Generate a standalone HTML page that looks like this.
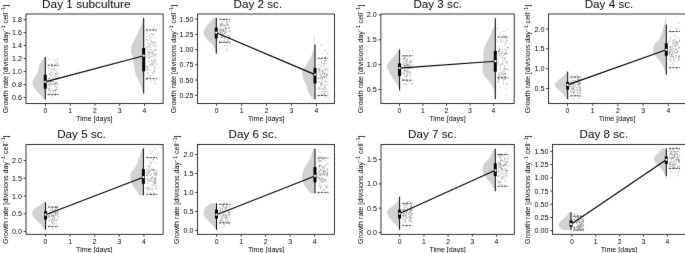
<!DOCTYPE html><html><head><meta charset="utf-8"><title>Growth rate per subculture</title><style>html,body{margin:0;padding:0;background:#fff;}body{width:685px;height:253px;overflow:hidden;font-family:"Liberation Sans", sans-serif;}svg{display:block;will-change:transform;}</style></head><body><svg width="685" height="253" viewBox="0 0 685 253" font-family='"Liberation Sans", sans-serif' fill="#000"><defs><filter id="b" filterUnits="userSpaceOnUse" x="0" y="0" width="685" height="253" color-interpolation-filters="sRGB"><feConvolveMatrix order="3" kernelMatrix="0.00524 0.06192 0.00524 0.06192 0.73137 0.06192 0.00524 0.06192 0.00524" divisor="1" edgeMode="duplicate" preserveAlpha="false"/></filter></defs><rect width="685" height="253" fill="#fff"/><g filter="url(#b)"><g><path d="M45.3 57L44.61 57L44.35 57.51L44.02 58.01L43.65 58.52L43.26 59.03L42.88 59.54L42.5 60.04L42.14 60.55L41.78 61.06L41.43 61.56L41.09 62.07L40.75 62.58L40.43 63.09L40.12 63.59L39.84 64.1L39.59 64.61L39.39 65.11L39.22 65.62L39.09 66.13L38.98 66.64L38.88 67.14L38.8 67.65L38.73 68.16L38.66 68.66L38.59 69.17L38.52 69.68L38.43 70.19L38.34 70.69L38.22 71.2L38.07 71.71L37.88 72.21L37.64 72.72L37.34 73.23L37 73.74L36.61 74.24L36.21 74.75L35.8 75.26L35.41 75.76L35.05 76.27L34.71 76.78L34.4 77.29L34.11 77.79L33.84 78.3L33.57 78.81L33.31 79.31L33.07 79.82L32.85 80.33L32.66 80.84L32.5 81.34L32.39 81.85L32.32 82.36L32.3 82.86L32.33 83.37L32.41 83.88L32.54 84.39L32.7 84.89L32.9 85.4L33.13 85.91L33.38 86.41L33.65 86.92L33.93 87.43L34.23 87.94L34.54 88.44L34.88 88.95L35.25 89.46L35.65 89.96L36.09 90.47L36.56 90.98L37.04 91.49L37.53 91.99L38.01 92.5L38.48 93.01L38.94 93.51L39.38 94.02L39.81 94.53L40.23 95.04L40.65 95.54L41.08 96.05L41.53 96.56L42 97.06L42.49 97.57L43 98.08L43.5 98.59L43.95 99.09L44.3 99.6L45.3 99.6Z" fill="#d2d2d2"/><path d="M143.7 17.8L143.31 17.8L143.22 18.31L143.11 18.81L142.98 19.32L142.84 19.82L142.69 20.33L142.54 20.83L142.39 21.34L142.23 21.84L142.06 22.35L141.9 22.85L141.73 23.36L141.56 23.86L141.38 24.37L141.2 24.87L141.02 25.38L140.83 25.89L140.64 26.39L140.44 26.9L140.23 27.4L140.03 27.91L139.81 28.41L139.6 28.92L139.37 29.42L139.15 29.93L138.92 30.43L138.69 30.94L138.46 31.44L138.23 31.95L138 32.45L137.76 32.96L137.53 33.47L137.3 33.97L137.06 34.48L136.83 34.98L136.59 35.49L136.35 35.99L136.11 36.5L135.87 37L135.63 37.51L135.38 38.01L135.13 38.52L134.88 39.02L134.64 39.53L134.39 40.03L134.15 40.54L133.91 41.05L133.68 41.55L133.44 42.06L133.19 42.56L132.95 43.07L132.7 43.57L132.45 44.08L132.21 44.58L131.99 45.09L131.8 45.59L131.63 46.1L131.49 46.6L131.39 47.11L131.3 47.61L131.24 48.12L131.18 48.63L131.13 49.13L131.08 49.64L131.05 50.14L131.02 50.65L131 51.15L131.01 51.66L131.04 52.16L131.1 52.67L131.21 53.17L131.36 53.68L131.54 54.18L131.75 54.69L131.97 55.19L132.2 55.7L132.42 56.21L132.63 56.71L132.81 57.22L132.96 57.72L133.07 58.23L133.16 58.73L133.21 59.24L133.26 59.74L133.29 60.25L133.31 60.75L133.34 61.26L133.36 61.76L133.39 62.27L133.43 62.77L133.47 63.28L133.53 63.79L133.59 64.29L133.68 64.8L133.77 65.3L133.88 65.81L133.99 66.31L134.11 66.82L134.23 67.32L134.35 67.83L134.47 68.33L134.57 68.84L134.68 69.34L134.77 69.85L134.85 70.35L134.92 70.86L134.98 71.37L135.05 71.87L135.12 72.38L135.2 72.88L135.29 73.39L135.41 73.89L135.56 74.4L135.74 74.9L135.97 75.41L136.22 75.91L136.5 76.42L136.8 76.92L137.1 77.43L137.39 77.93L137.67 78.44L137.93 78.95L138.17 79.45L138.41 79.96L138.63 80.46L138.85 80.97L139.07 81.47L139.28 81.98L139.48 82.48L139.69 82.99L139.89 83.49L140.09 84L140.28 84.5L140.47 85.01L140.66 85.51L140.84 86.02L141.03 86.53L141.21 87.03L141.38 87.54L141.56 88.04L141.73 88.55L141.9 89.05L142.07 89.56L142.23 90.06L142.39 90.57L142.55 91.07L142.7 91.58L142.85 92.08L142.99 92.59L143.11 93.09L143.2 93.6L143.7 93.6Z" fill="#d2d2d2"/><path d="M54.81 84.13h0M54.5 90.56h0M56.53 87.35h0M56.32 73.62h0M51.27 75.66h0M55.45 90.36h0M56.99 58.9h0M57.27 89.11h0M49.51 88.05h0M48.08 80.52h0M54.7 75.98h0M50.08 75.46h0M53.78 73.73h0M57.81 79.38h0M51.82 81.47h0M50.48 81.28h0M52.64 98.26h0M54.77 86.97h0M48.87 84.19h0M51.83 96.37h0M49.22 73.57h0M54.82 70.59h0M56.6 82.83h0M51.79 64.37h0M51.74 63.82h0M53.52 81.48h0M50.08 80.3h0M50.42 91.81h0M51.3 83.48h0M52.65 82.04h0M48.66 80.84h0M55.78 74.44h0M53.94 60.13h0M50.98 71.82h0M48.62 84.72h0M55.89 73.15h0M49.19 78.03h0M49.21 59.42h0M49.19 88.89h0M48.66 69.88h0M57.41 75h0M50.65 90.18h0M51.05 81.4h0M56.63 89.2h0M54.37 84.04h0M49.78 85.85h0M52.41 66.35h0M57.17 82.9h0M51.78 81.02h0M55.34 89.63h0M48.83 78.06h0M55.51 84h0M56.03 64.07h0M56.55 78.46h0M54.95 76.54h0M51.73 69.12h0M48.48 88.85h0M53.3 78.35h0M55.83 95.71h0M49.82 82.74h0M50.62 83.67h0M53.48 83.88h0M55.73 84.93h0M57.3 69.48h0M49.13 79.23h0M49.75 74.84h0M56.28 78.68h0M54.63 67.2h0M55.44 94.74h0M58.37 72.95h0M57.76 84.65h0M56.74 76.51h0M56.04 90.1h0M51.99 84.61h0M54.6 69.02h0M49.76 89.91h0M55.85 93.61h0M55.83 91.53h0M55.45 82.41h0M52.51 69.06h0M51.81 72.61h0M52.25 92.87h0M48.15 82.25h0M56.75 71.83h0M53.55 90.98h0M51.91 84.65h0M53.61 83.15h0M55.45 78.05h0M51.84 79.9h0M56.6 73.54h0M57.55 63.72h0M51.91 90.57h0M49.26 80.9h0M55.86 83.15h0M58.33 77.57h0M49.37 86.2h0M55.35 61.3h0M56.55 78.58h0M57.56 62.13h0M49.11 68.52h0M48.77 95.13h0M58.27 83.77h0M49.04 78.5h0M49.67 81.83h0M53.89 90.23h0M52.53 77.31h0M55.75 83.15h0M49.82 84.74h0M57.49 76.98h0M50.1 81.52h0M55.95 86.64h0M48.52 90.73h0" stroke="#787878" stroke-opacity="0.95" stroke-width="0.84" stroke-linecap="round" fill="none"/><path d="M153.82 53.1h0M153.49 29.03h0M150.55 47.54h0M155.2 46.61h0M154.16 63.43h0M149.64 52.41h0M146.84 33.47h0M147.43 88.03h0M147.99 73.62h0M149.28 75.78h0M150.83 43.99h0M156.02 50.4h0M149.01 43.32h0M155.7 38.01h0M153.35 30.26h0M155.22 53.88h0M150.36 38.47h0M146.04 40.81h0M154.5 71.73h0M148.65 52.61h0M147.54 42.61h0M154.63 61.7h0M153.41 45.47h0M148.29 55.19h0M148.89 46.1h0M156.14 54.79h0M148.9 60.81h0M153.59 55.07h0M147.4 49.48h0M154.8 67.62h0M147.27 72.5h0M151.57 41.83h0M146.38 39.49h0M151.94 37.12h0M155.14 83.21h0M146.91 78.26h0M148.96 44.57h0M154.26 80.71h0M152.57 43.11h0M149.38 53.84h0M152.79 54.55h0M150.91 75.5h0M155.31 30.87h0M149.16 46.52h0M154.18 57.99h0M152.87 34.57h0M154 44.54h0M150.09 52.61h0M153.83 73.21h0M153.54 65.52h0M150.18 70.18h0M146.29 66.46h0M156.4 63.69h0M153.71 71.61h0M148.21 61.87h0M153.89 65.11h0M149.01 46.73h0M151.07 41.49h0M155.29 67.17h0M150.84 40.68h0M149.11 76.01h0M149.3 58.29h0M146.83 47.5h0M148.37 77.56h0M148.93 40.14h0M147.87 54.18h0M146.68 36.34h0M151.03 81.36h0M148.32 57.45h0M153.98 68.77h0M155.96 45.62h0M148.95 68.28h0M152.18 63.37h0M151.47 60.31h0M146.81 79.56h0M147.35 51.65h0M155.56 50.3h0M151.12 62.99h0M154.69 70.08h0M146.72 47.71h0M152.42 61.7h0M155.35 41.87h0M155.36 56.3h0M146.06 66.99h0M151.63 33.69h0M149.99 64.53h0M154.21 26.43h0M146.79 79.93h0M148.86 52.81h0M154.78 50.48h0M151.07 64.41h0M150.89 54.45h0M156.46 65.01h0M149.45 35.56h0M146.45 56.68h0M150.24 56.32h0M147.66 77.77h0M146.88 30.06h0M152.13 52.59h0M156.3 60.1h0M152.26 56.36h0M152.99 34.78h0M149.5 57.83h0M152.17 43.37h0M154.12 42.58h0M152.36 73.72h0M154.67 42.48h0M151.95 51.65h0M148.14 66.17h0M152.29 64.29h0M151.3 56.84h0M147.79 69.18h0M152.69 52.06h0M154.82 59.93h0M147.46 69.7h0M151.89 61h0M153.92 60.68h0M150.35 49.9h0M148.92 55.9h0M150.02 49.96h0M151.85 66.22h0M153.42 49.52h0M152.04 53h0M147.16 67.05h0M154.83 55.07h0M155.98 48.07h0M147.09 70.13h0" stroke="#787878" stroke-opacity="0.95" stroke-width="0.84" stroke-linecap="round" fill="none"/><path d="M45.3 81.9L143.7 55.7" stroke="#000" stroke-width="1.15" fill="none"/><path d="M45.3 57V99.6" stroke="#000" stroke-width="1"/><path d="M45.3 74.8V88.7" stroke="#000" stroke-width="3"/><circle cx="45.3" cy="81.9" r="1.15" fill="#fff"/><path d="M47.6 65.3H58.6" stroke="#000" stroke-width="0.75" stroke-dasharray="2.3 1" fill="none"/><path d="M47.6 94.4H58.6" stroke="#000" stroke-width="0.75" stroke-dasharray="2.3 1" fill="none"/><path d="M143.7 17.8V93.6" stroke="#000" stroke-width="1"/><path d="M143.7 48V71.4" stroke="#000" stroke-width="3"/><circle cx="143.7" cy="55.7" r="1.15" fill="#fff"/><path d="M145.8 29.9H157" stroke="#000" stroke-width="0.75" stroke-dasharray="2.3 1" fill="none"/><path d="M145.8 78.7H157" stroke="#000" stroke-width="0.75" stroke-dasharray="2.3 1" fill="none"/><rect x="26" y="14" width="137.1" height="89.45" fill="none" stroke="#000" stroke-width="0.8"/><path d="M26 19.65h-2.5M26 32.62h-2.5M26 45.6h-2.5M26 58.57h-2.5M26 71.55h-2.5M26 84.53h-2.5M26 97.5h-2.5M45.5 103.45v2.5M70.25 103.45v2.5M95 103.45v2.5M119.75 103.45v2.5M144.5 103.45v2.5" stroke="#000" stroke-width="0.7" fill="none"/><g font-size="6.85"><text x="21.9" y="22.15" text-anchor="end" textLength="10" lengthAdjust="spacingAndGlyphs">1.8</text><text x="21.9" y="35.12" text-anchor="end" textLength="10" lengthAdjust="spacingAndGlyphs">1.6</text><text x="21.9" y="48.1" text-anchor="end" textLength="10" lengthAdjust="spacingAndGlyphs">1.4</text><text x="21.9" y="61.07" text-anchor="end" textLength="10" lengthAdjust="spacingAndGlyphs">1.2</text><text x="21.9" y="74.05" text-anchor="end" textLength="10" lengthAdjust="spacingAndGlyphs">1.0</text><text x="21.9" y="87.03" text-anchor="end" textLength="10" lengthAdjust="spacingAndGlyphs">0.8</text><text x="21.9" y="100" text-anchor="end" textLength="10" lengthAdjust="spacingAndGlyphs">0.6</text><text x="45.5" y="112.9" text-anchor="middle">0</text><text x="70.25" y="112.9" text-anchor="middle">1</text><text x="95" y="112.9" text-anchor="middle">2</text><text x="119.75" y="112.9" text-anchor="middle">3</text><text x="144.5" y="112.9" text-anchor="middle">4</text></g><text x="94.3" y="121.45" font-size="6.6" text-anchor="middle" textLength="36.5" lengthAdjust="spacingAndGlyphs">Time [days]</text><text transform="translate(7.75 59.02) rotate(-90)" font-size="6.6" text-anchor="middle" textLength="108.5" lengthAdjust="spacingAndGlyphs">Growth rate [divisions day<tspan font-size="4.8" dy="-2.4">−1</tspan><tspan dy="2.4"> cell</tspan><tspan font-size="4.8" dy="-2.4">−1</tspan><tspan dy="2.4">]</tspan></text><text x="86.3" y="7.6" font-size="10.4" text-anchor="middle" textLength="88.4" lengthAdjust="spacingAndGlyphs">Day 1 subculture</text></g><g><path d="M216.3 17.9L213.52 17.9L213.21 18.41L212.8 18.92L212.33 19.43L211.84 19.95L211.36 20.46L210.88 20.97L210.42 21.48L209.96 21.99L209.51 22.5L209.07 23.01L208.63 23.53L208.2 24.04L207.78 24.55L207.38 25.06L206.99 25.57L206.63 26.08L206.29 26.59L205.96 27.11L205.65 27.62L205.35 28.13L205.05 28.64L204.75 29.15L204.48 29.66L204.23 30.17L204.01 30.69L203.83 31.2L203.7 31.71L203.62 32.22L203.6 32.73L203.65 33.24L203.76 33.75L203.93 34.27L204.14 34.78L204.39 35.29L204.67 35.8L204.96 36.31L205.25 36.82L205.56 37.33L205.87 37.85L206.21 38.36L206.58 38.87L206.98 39.38L207.42 39.89L207.92 40.4L208.47 40.91L209.07 41.43L209.69 41.94L210.31 42.45L210.91 42.96L211.45 43.47L211.94 43.98L212.38 44.49L212.79 45.01L213.16 45.52L213.49 46.03L213.8 46.54L214.08 47.05L214.32 47.56L214.54 48.07L214.74 48.59L214.92 49.1L215.08 49.61L215.24 50.12L215.38 50.63L215.51 51.14L215.64 51.65L215.76 52.17L215.87 52.68L215.96 53.19L216.03 53.7L216.3 53.7Z" fill="#d2d2d2"/><path d="M315 35.3L314.5 35.3L314.49 35.8L314.49 36.31L314.48 36.81L314.48 37.32L314.47 37.82L314.46 38.32L314.44 38.83L314.43 39.33L314.41 39.84L314.39 40.34L314.37 40.84L314.35 41.35L314.33 41.85L314.31 42.36L314.28 42.86L314.26 43.36L314.23 43.87L314.2 44.37L314.16 44.87L314.12 45.38L314.07 45.88L314.01 46.39L313.94 46.89L313.87 47.39L313.79 47.9L313.71 48.4L313.61 48.91L313.52 49.41L313.41 49.91L313.3 50.42L313.17 50.92L313.04 51.43L312.89 51.93L312.73 52.43L312.56 52.94L312.39 53.44L312.2 53.95L312.01 54.45L311.81 54.95L311.61 55.46L311.4 55.96L311.19 56.47L310.97 56.97L310.74 57.47L310.5 57.98L310.24 58.48L309.98 58.99L309.7 59.49L309.41 59.99L309.11 60.5L308.8 61L308.49 61.5L308.18 62.01L307.86 62.51L307.55 63.02L307.24 63.52L306.92 64.02L306.61 64.53L306.29 65.03L305.96 65.54L305.61 66.04L305.25 66.54L304.87 67.05L304.49 67.55L304.12 68.06L303.75 68.56L303.41 69.06L303.09 69.57L302.81 70.07L302.56 70.58L302.37 71.08L302.23 71.58L302.14 72.09L302.1 72.59L302.1 73.1L302.13 73.6L302.19 74.1L302.26 74.61L302.35 75.11L302.44 75.61L302.55 76.12L302.67 76.62L302.79 77.13L302.92 77.63L303.07 78.13L303.25 78.64L303.44 79.14L303.66 79.65L303.9 80.15L304.16 80.65L304.42 81.16L304.69 81.66L304.95 82.17L305.2 82.67L305.44 83.17L305.65 83.68L305.85 84.18L306.03 84.69L306.2 85.19L306.35 85.69L306.5 86.2L306.64 86.7L306.77 87.21L306.91 87.71L307.05 88.21L307.2 88.72L307.35 89.22L307.51 89.73L307.69 90.23L307.88 90.73L308.08 91.24L308.29 91.74L308.52 92.24L308.76 92.75L309.01 93.25L309.27 93.76L309.55 94.26L309.85 94.76L310.16 95.27L310.5 95.77L310.86 96.28L311.24 96.78L311.65 97.28L312.08 97.79L312.49 98.29L312.87 98.8L313.16 99.3L315 99.3Z" fill="#d2d2d2"/><path d="M225.51 27.5h0M221.63 25.79h0M228.07 39.04h0M219.55 41.32h0M226.8 21.07h0M221.46 29.64h0M224.39 25.95h0M229.74 31.84h0M225.11 42.2h0M220 23.86h0M223.95 25.27h0M226.4 31.93h0M220 32.38h0M222.08 37.34h0M219.59 30.73h0M225.12 24.71h0M223.44 29.75h0M224.74 45.68h0M222.54 36.58h0M226.36 23.97h0M221.23 37.31h0M229.01 28.21h0M229.58 37.53h0M224.63 19.41h0M224.33 39.92h0M228.51 24.65h0M222.47 31.39h0M227.91 35.66h0M222.45 32.8h0M227.03 25.58h0M222.94 24.45h0M225.79 28.71h0M229.21 21.5h0M219.98 26.31h0M227.96 24.23h0M225.14 32.5h0M223.42 29.93h0M223.11 34.47h0M220.14 28.08h0M222.14 21.3h0M226.01 29.03h0M220.43 37.08h0M226.5 29.02h0M229.6 31.09h0M229.8 36.9h0M228.83 30.71h0M227.95 40.65h0M221.29 42.17h0M229.68 28.68h0M221.55 35.87h0M228.61 27.58h0M228.71 24.92h0M225.99 31.36h0M224.93 34.83h0M221.52 42.5h0M224.91 25.5h0M222.48 35.71h0M220.73 32.4h0M220.76 25.73h0M227.89 45.36h0M229.18 36.05h0M220.9 24.67h0M219.54 42h0M222.19 23.32h0M220.83 23.37h0M221.4 29.57h0M225.58 42.83h0M223.88 20.56h0M223.95 41.73h0M221.58 34.19h0M226.44 22.5h0M222.47 33.51h0M223.63 31.1h0M224.31 33.48h0M228.99 37.21h0M222.01 35.1h0M227.02 50.27h0M222.68 25.72h0M228.88 37.94h0M223.58 30.92h0M224.75 37.25h0M228.7 41.2h0M226.53 49.41h0M220.4 29.01h0M220.85 31.46h0M229.9 43.09h0M219.71 42.95h0M222.59 30.18h0M229.56 43.35h0M219.56 30.08h0M221.11 30.69h0M221.66 37.16h0M220.32 32.59h0M224.4 31.58h0M225.68 30.04h0M222.77 31.35h0M220.55 25.28h0M228 22.2h0M227.93 37.38h0M225.36 33.24h0M220.86 34.39h0M225.14 38.67h0M226.07 27.55h0M223.94 27.36h0M228.56 28.29h0M223.53 29.31h0M224.82 37.05h0M220.61 29.8h0M225.37 29.09h0M227.52 35.38h0M227.15 25.47h0M222.12 24.49h0" stroke="#787878" stroke-opacity="0.95" stroke-width="0.84" stroke-linecap="round" fill="none"/><path d="M318.33 97.14h0M325.85 81.63h0M326.03 73.37h0M324.56 73.44h0M321.01 83.78h0M324.48 65.3h0M318.56 78.26h0M324.52 81.21h0M323.63 75.86h0M324.06 88.42h0M322.3 73.81h0M320.02 74.03h0M325.18 69.46h0M322.48 91.22h0M325.38 70.03h0M321.45 80.73h0M318.6 71.87h0M323.29 91.41h0M324.11 93.66h0M327.19 53.65h0M326.84 97.51h0M318.29 78.17h0M325.65 59.8h0M320.39 74.67h0M324.88 57.56h0M321.61 76.48h0M321.02 66.07h0M322.73 70.76h0M323.16 69.94h0M324.85 77.55h0M324.27 85.65h0M324.69 92.17h0M321.66 70.99h0M324.68 77.51h0M321.26 44.57h0M323.96 72.27h0M322.43 94.42h0M323.5 63.56h0M317.88 88.92h0M322.84 79.4h0M319.97 69.62h0M321.67 84.39h0M318.46 68.89h0M324.47 89.66h0M326.9 60.42h0M321.35 62.81h0M318.78 81.97h0M324.09 73.36h0M319.01 64.44h0M326.88 75.95h0M318.96 70.29h0M321.43 76.45h0M322.79 82.5h0M318.91 87.16h0M320.98 58.83h0M320.54 77.57h0M325.05 96.36h0M327.86 74.96h0M321.44 83.6h0M325.84 60.95h0M319.15 87.99h0M323.67 76.68h0M322.16 88.6h0M320.67 85.01h0M326.16 88.31h0M325.39 57.7h0M319.08 81.88h0M320.71 67.19h0M326.14 68.7h0M327.92 70.22h0M324 77.5h0M326.68 78.87h0M327.84 92.04h0M325.33 50.36h0M324.34 67.03h0M319.98 72.14h0M321.52 86.4h0M324.12 76.84h0M327.24 74.71h0M320.81 83.17h0M321.77 79.71h0M317.93 69.4h0M324.88 61.46h0M322.27 73.97h0M325.92 88.3h0M320.11 78.59h0M324.49 58.36h0M324.63 73.68h0M322.48 72.6h0M319.64 77.95h0M321.85 77.72h0M325.37 91.87h0M319.65 70.58h0M318.63 72.51h0M322.47 77.82h0M320.12 89.19h0M325.95 81.82h0M326.12 74.14h0M327.44 85h0M326.35 75.77h0M324.37 93.84h0M319.63 68.76h0M326.18 63.57h0M325.2 86.51h0M325.39 69.45h0M324.88 87.5h0M326.25 77.95h0M320.77 74.93h0M324.63 61.09h0M323.03 84.71h0M321.18 58.98h0M321.07 94.37h0M319.3 88.55h0M322.76 71.37h0M321.5 63.12h0M322.04 89.75h0M326.47 74.59h0M324.72 63.25h0M324.71 75.47h0M327.84 68.74h0" stroke="#787878" stroke-opacity="0.95" stroke-width="0.84" stroke-linecap="round" fill="none"/><path d="M216.3 32.7L315 74.6" stroke="#000" stroke-width="1.15" fill="none"/><path d="M216.3 17.9V53.7" stroke="#000" stroke-width="1"/><path d="M216.3 27.6V38.4" stroke="#000" stroke-width="3"/><circle cx="216.3" cy="32.7" r="1.15" fill="#fff"/><path d="M219.2 19.4H230.2" stroke="#000" stroke-width="0.75" stroke-dasharray="2.3 1" fill="none"/><path d="M219.2 42.3H230.2" stroke="#000" stroke-width="0.75" stroke-dasharray="2.3 1" fill="none"/><path d="M315 44.5V99.3" stroke="#000" stroke-width="1"/><path d="M315 68V83.5" stroke="#000" stroke-width="3"/><circle cx="315" cy="74.6" r="1.15" fill="#fff"/><path d="M317.5 58.2H328.2" stroke="#000" stroke-width="0.75" stroke-dasharray="2.3 1" fill="none"/><path d="M317.5 95.5H328.2" stroke="#000" stroke-width="0.75" stroke-dasharray="2.3 1" fill="none"/><rect x="197.5" y="14" width="137" height="89.45" fill="none" stroke="#000" stroke-width="0.8"/><path d="M197.5 19.05h-2.5M197.5 34.3h-2.5M197.5 49.55h-2.5M197.5 64.8h-2.5M197.5 80.05h-2.5M197.5 95.3h-2.5M216.6 103.45v2.5M241.57 103.45v2.5M266.54 103.45v2.5M291.51 103.45v2.5M316.48 103.45v2.5" stroke="#000" stroke-width="0.7" fill="none"/><g font-size="6.85"><text x="193.4" y="21.55" text-anchor="end" textLength="13.8" lengthAdjust="spacingAndGlyphs">1.50</text><text x="193.4" y="36.8" text-anchor="end" textLength="13.8" lengthAdjust="spacingAndGlyphs">1.25</text><text x="193.4" y="52.05" text-anchor="end" textLength="13.8" lengthAdjust="spacingAndGlyphs">1.00</text><text x="193.4" y="67.3" text-anchor="end" textLength="13.8" lengthAdjust="spacingAndGlyphs">0.75</text><text x="193.4" y="82.55" text-anchor="end" textLength="13.8" lengthAdjust="spacingAndGlyphs">0.50</text><text x="193.4" y="97.8" text-anchor="end" textLength="13.8" lengthAdjust="spacingAndGlyphs">0.25</text><text x="216.6" y="112.9" text-anchor="middle">0</text><text x="241.57" y="112.9" text-anchor="middle">1</text><text x="266.54" y="112.9" text-anchor="middle">2</text><text x="291.51" y="112.9" text-anchor="middle">3</text><text x="316.48" y="112.9" text-anchor="middle">4</text></g><text x="266.2" y="121.45" font-size="6.6" text-anchor="middle" textLength="36.5" lengthAdjust="spacingAndGlyphs">Time [days]</text><text transform="translate(175.5 59.02) rotate(-90)" font-size="6.6" text-anchor="middle" textLength="108.5" lengthAdjust="spacingAndGlyphs">Growth rate [divisions day<tspan font-size="4.8" dy="-2.4">−1</tspan><tspan dy="2.4"> cell</tspan><tspan font-size="4.8" dy="-2.4">−1</tspan><tspan dy="2.4">]</tspan></text><text x="257.9" y="7.6" font-size="10.4" text-anchor="middle" textLength="48.6" lengthAdjust="spacingAndGlyphs">Day 2 sc.</text></g><g><path d="M399.6 49.5L399.04 49.5L398.8 50.01L398.5 50.52L398.14 51.03L397.76 51.55L397.36 52.06L396.97 52.57L396.56 53.08L396.16 53.59L395.74 54.1L395.33 54.61L394.9 55.12L394.47 55.64L394.02 56.15L393.57 56.66L393.1 57.17L392.64 57.68L392.18 58.19L391.73 58.7L391.3 59.21L390.88 59.73L390.47 60.24L390.07 60.75L389.66 61.26L389.26 61.77L388.85 62.28L388.46 62.79L388.08 63.3L387.73 63.82L387.41 64.33L387.14 64.84L386.93 65.35L386.78 65.86L386.71 66.37L386.71 66.88L386.78 67.39L386.92 67.91L387.11 68.42L387.35 68.93L387.62 69.44L387.91 69.95L388.21 70.46L388.51 70.97L388.8 71.48L389.07 72L389.34 72.51L389.6 73.02L389.85 73.53L390.11 74.04L390.37 74.55L390.64 75.06L390.92 75.57L391.21 76.09L391.51 76.6L391.83 77.11L392.17 77.62L392.53 78.13L392.91 78.64L393.3 79.15L393.7 79.66L394.1 80.18L394.5 80.69L394.89 81.2L395.27 81.71L395.64 82.22L396 82.73L396.36 83.24L396.72 83.75L397.07 84.27L397.41 84.78L397.73 85.29L398.02 85.8L398.28 86.31L398.5 86.82L398.69 87.33L398.86 87.84L399 88.36L399.13 88.87L399.23 89.38L399.3 89.89L399.35 90.4L399.6 90.4Z" fill="#d2d2d2"/><path d="M495.3 18.2L494.99 18.2L494.99 18.7L494.97 19.21L494.95 19.71L494.93 20.21L494.9 20.72L494.86 21.22L494.81 21.73L494.76 22.23L494.71 22.73L494.65 23.24L494.59 23.74L494.52 24.24L494.45 24.75L494.36 25.25L494.25 25.76L494.12 26.26L493.97 26.76L493.79 27.27L493.59 27.77L493.37 28.27L493.15 28.78L492.91 29.28L492.68 29.79L492.44 30.29L492.21 30.79L491.99 31.3L491.78 31.8L491.57 32.3L491.37 32.81L491.17 33.31L490.96 33.82L490.76 34.32L490.56 34.82L490.35 35.33L490.15 35.83L489.93 36.33L489.72 36.84L489.5 37.34L489.27 37.85L489.03 38.35L488.79 38.85L488.53 39.36L488.25 39.86L487.96 40.36L487.65 40.87L487.34 41.37L487.03 41.88L486.72 42.38L486.43 42.88L486.15 43.39L485.89 43.89L485.66 44.39L485.43 44.9L485.22 45.4L485.02 45.9L484.82 46.41L484.63 46.91L484.44 47.42L484.26 47.92L484.09 48.42L483.93 48.93L483.79 49.43L483.67 49.93L483.57 50.44L483.5 50.94L483.44 51.45L483.41 51.95L483.4 52.45L483.41 52.96L483.42 53.46L483.45 53.96L483.48 54.47L483.51 54.97L483.54 55.48L483.57 55.98L483.6 56.48L483.63 56.99L483.65 57.49L483.66 57.99L483.66 58.5L483.64 59L483.62 59.51L483.58 60.01L483.53 60.51L483.46 61.02L483.39 61.52L483.3 62.02L483.22 62.53L483.12 63.03L483.03 63.54L482.94 64.04L482.84 64.54L482.76 65.05L482.67 65.55L482.6 66.05L482.53 66.56L482.48 67.06L482.44 67.57L482.41 68.07L482.4 68.57L482.4 69.08L482.42 69.58L482.45 70.08L482.48 70.59L482.53 71.09L482.59 71.6L482.66 72.1L482.74 72.6L482.84 73.11L482.96 73.61L483.13 74.11L483.36 74.62L483.67 75.12L484.05 75.62L484.5 76.13L485 76.63L485.52 77.14L486.05 77.64L486.55 78.14L487.03 78.65L487.47 79.15L487.89 79.65L488.29 80.16L488.67 80.66L489.05 81.17L489.43 81.67L489.79 82.17L490.15 82.68L490.5 83.18L490.83 83.68L491.15 84.19L491.45 84.69L491.74 85.2L492 85.7L492.25 86.2L492.47 86.71L492.68 87.21L492.88 87.71L493.07 88.22L493.25 88.72L493.43 89.23L493.59 89.73L493.74 90.23L493.88 90.74L494.01 91.24L494.13 91.74L494.24 92.25L494.34 92.75L494.43 93.26L494.52 93.76L494.59 94.26L494.67 94.77L494.74 95.27L494.81 95.77L494.87 96.28L494.93 96.78L494.97 97.29L495.02 97.79L495.05 98.29L495.07 98.8L495.09 99.3L495.3 99.3Z" fill="#d2d2d2"/><path d="M410.87 61.91h0M402.76 67.14h0M404.35 59.04h0M405.1 65.89h0M407.07 81.34h0M404.14 58.36h0M407.84 74.03h0M405.87 76.45h0M409.02 68.13h0M407.77 75.76h0M409.33 65.91h0M404.89 65.48h0M409.54 68.56h0M409.82 61.63h0M409.69 64.37h0M403.09 64.59h0M411.96 83.82h0M408.23 64.75h0M405.15 61.83h0M406.78 79.45h0M407.63 59.51h0M407.63 81.5h0M404.9 76.23h0M405.08 70.8h0M406.07 65.55h0M410.29 62.5h0M406.82 59.33h0M402.79 59.02h0M406.97 64.63h0M404.43 65.85h0M402.53 79.23h0M412.27 68.5h0M405.37 83.72h0M407.83 72.7h0M406.02 61.56h0M402.94 67.68h0M411.5 60.96h0M411.85 55.73h0M404.28 79.98h0M406.62 65.3h0M406.17 60.68h0M404.09 58.66h0M409.08 71.43h0M410.3 66.79h0M410.07 52.77h0M409.22 72.24h0M402.58 62.68h0M404.72 74.71h0M407.6 66.93h0M409.5 68.72h0M406.3 66.17h0M406.94 71.57h0M410.89 84.41h0M402.64 73.08h0M405.11 57.21h0M405.33 66.96h0M412.43 62.17h0M404.7 59.39h0M402.88 60.86h0M406.61 62.17h0M408.96 81.83h0M403.95 73h0M410.88 76.93h0M404.38 71.94h0M409.51 63.7h0M404.03 65.57h0M411.31 67.15h0M404.43 64.18h0M409.79 66.16h0M410.87 73.68h0M404.97 57.46h0M403.34 63.05h0M408.32 68.21h0M407.44 71.24h0M407.24 69.96h0M410.29 72.18h0M407.08 59.08h0M407.42 61.38h0M407.32 63.95h0M406.99 63.11h0M406.5 73.24h0M404.03 84.36h0M405.38 70.73h0M405.08 55.51h0M404.91 63.54h0M410.31 74.76h0M403.55 79.61h0M404.47 69.78h0M407.72 64.81h0M405.56 66.02h0M404.83 70.61h0M406.17 76.35h0M407.47 65.03h0M409.21 61.53h0M412.22 50.77h0M411.01 59.83h0M406.74 76h0M406.96 69.06h0M406.6 84.5h0M404.81 57.09h0M412.01 64.91h0M403.09 73.5h0M404.47 70.7h0M409.09 57.08h0M408.35 65.85h0" stroke="#787878" stroke-opacity="0.95" stroke-width="0.84" stroke-linecap="round" fill="none"/><path d="M499.07 50.78h0M498.48 79.54h0M500.21 55.96h0M502.92 64.9h0M507.6 40.88h0M505.38 76.1h0M503.67 41.18h0M503.22 55.31h0M505.01 76.33h0M504.32 79.59h0M501.3 77.16h0M498.76 74.16h0M499.89 49.43h0M505.94 35.33h0M504.4 58.3h0M506.09 37.94h0M498.26 82.17h0M507.17 29.38h0M501.78 53.49h0M507.43 47.52h0M503.98 31.56h0M503.49 60.96h0M506.31 40.08h0M504.3 77.16h0M504.82 68.36h0M499.44 54.97h0M504.09 74.31h0M501.51 72.89h0M498.59 52.71h0M499.19 75.3h0M502.79 78.74h0M500.53 66.04h0M505.76 54.01h0M499.07 76.82h0M497.94 80.9h0M508.17 53.71h0M501.05 39.96h0M503.1 74.96h0M499.98 67.13h0M499.97 49.94h0M501.98 63.51h0M506.01 52.65h0M498.21 77.57h0M506.51 53.82h0M508.1 47.51h0M503.62 37.08h0M501.54 53.31h0M500.23 87.52h0M499.7 48.38h0M501.16 58.22h0M506.66 83.2h0M497.83 28.46h0M505.97 50.46h0M504.74 73.66h0M498 41.6h0M498.52 78.49h0M505.44 73.24h0M504.8 45.11h0M501.06 64.58h0M506.76 63.45h0M499.99 69.1h0M502.24 51.87h0M499 55.87h0M504.52 49.14h0M498.71 51.46h0M499.67 46.1h0M505.77 77.15h0M503 76.8h0M504.68 54.48h0M505.43 68.3h0M504.11 60.01h0M499.86 51.18h0M505.06 53.52h0M499.01 81.97h0M500.61 53.59h0M502.46 63.61h0M498.99 80.02h0M498.9 51.43h0M504.58 73.87h0M505.52 43.28h0M501.66 70.14h0M501.85 72.76h0M499.96 75.12h0M503.22 83.86h0M503.84 69.01h0M507.51 84.23h0M498.22 51.06h0M507.25 62.21h0M508.1 48.02h0M501.4 41.42h0M505.35 57.44h0M506.38 69.74h0M504.57 71.16h0M500.8 32.68h0M504.28 79.66h0M506.92 49.52h0M498.91 51.96h0M502.79 74.45h0M498.04 76.04h0M506.59 69.86h0M505.9 52.55h0M498.28 59.01h0M505.56 73.86h0M504.99 54.12h0M499.11 72.39h0M503.26 71.61h0M504.97 58.82h0M501.29 76.98h0M503.04 56.24h0M507.95 69.59h0M504.41 66.26h0M503.02 52.97h0M498.49 62.19h0M499.06 64.52h0M506.65 62.08h0M505.52 41.87h0M506.48 88.35h0M503.81 82.46h0M503.79 35.32h0M503.32 80.19h0M505.44 61.81h0M501.23 42.57h0M502.97 73.64h0M502.69 57.76h0M504.68 69.07h0M500.05 74.1h0M498.06 62.82h0" stroke="#787878" stroke-opacity="0.95" stroke-width="0.84" stroke-linecap="round" fill="none"/><path d="M399.6 68.1L495.3 61.2" stroke="#000" stroke-width="1.15" fill="none"/><path d="M399.6 49.5V90.4" stroke="#000" stroke-width="1"/><path d="M399.6 63.4V76" stroke="#000" stroke-width="3"/><circle cx="399.6" cy="68.1" r="1.15" fill="#fff"/><path d="M402.2 55.8H412.7" stroke="#000" stroke-width="0.75" stroke-dasharray="2.3 1" fill="none"/><path d="M402.2 80.2H412.7" stroke="#000" stroke-width="0.75" stroke-dasharray="2.3 1" fill="none"/><path d="M495.3 18.2V99.3" stroke="#000" stroke-width="1"/><path d="M495.3 50.9V71.7" stroke="#000" stroke-width="3"/><circle cx="495.3" cy="61.2" r="1.15" fill="#fff"/><path d="M497.6 37H508.4" stroke="#000" stroke-width="0.75" stroke-dasharray="2.3 1" fill="none"/><path d="M497.6 77.8H508.4" stroke="#000" stroke-width="0.75" stroke-dasharray="2.3 1" fill="none"/><rect x="380.9" y="14" width="133.3" height="89.45" fill="none" stroke="#000" stroke-width="0.8"/><path d="M380.9 14.9h-2.5M380.9 39.77h-2.5M380.9 64.63h-2.5M380.9 89.5h-2.5M399.5 103.45v2.5M423 103.45v2.5M446.5 103.45v2.5M470 103.45v2.5M493.5 103.45v2.5" stroke="#000" stroke-width="0.7" fill="none"/><g font-size="6.85"><text x="376.8" y="17.4" text-anchor="end" textLength="10" lengthAdjust="spacingAndGlyphs">2.0</text><text x="376.8" y="42.27" text-anchor="end" textLength="10" lengthAdjust="spacingAndGlyphs">1.5</text><text x="376.8" y="67.13" text-anchor="end" textLength="10" lengthAdjust="spacingAndGlyphs">1.0</text><text x="376.8" y="92" text-anchor="end" textLength="10" lengthAdjust="spacingAndGlyphs">0.5</text><text x="399.5" y="112.9" text-anchor="middle">0</text><text x="423" y="112.9" text-anchor="middle">1</text><text x="446.5" y="112.9" text-anchor="middle">2</text><text x="470" y="112.9" text-anchor="middle">3</text><text x="493.5" y="112.9" text-anchor="middle">4</text></g><text x="447.4" y="121.45" font-size="6.6" text-anchor="middle" textLength="36.5" lengthAdjust="spacingAndGlyphs">Time [days]</text><text transform="translate(362.7 59.02) rotate(-90)" font-size="6.6" text-anchor="middle" textLength="108.5" lengthAdjust="spacingAndGlyphs">Growth rate [divisions day<tspan font-size="4.8" dy="-2.4">−1</tspan><tspan dy="2.4"> cell</tspan><tspan font-size="4.8" dy="-2.4">−1</tspan><tspan dy="2.4">]</tspan></text><text x="437.7" y="7.6" font-size="10.4" text-anchor="middle" textLength="48.6" lengthAdjust="spacingAndGlyphs">Day 3 sc.</text></g><g><path d="M567.7 71.6L567.12 71.6L566.87 72.11L566.53 72.62L566.13 73.13L565.69 73.64L565.22 74.16L564.74 74.67L564.23 75.18L563.7 75.69L563.14 76.2L562.55 76.71L561.93 77.22L561.31 77.73L560.68 78.24L560.06 78.76L559.46 79.27L558.87 79.78L558.29 80.29L557.72 80.8L557.14 81.31L556.59 81.82L556.08 82.33L555.63 82.84L555.26 83.36L554.99 83.87L554.84 84.38L554.81 84.89L554.91 85.4L555.12 85.91L555.43 86.42L555.82 86.93L556.26 87.44L556.75 87.96L557.25 88.47L557.75 88.98L558.25 89.49L558.74 90L559.25 90.51L559.76 91.02L560.29 91.53L560.83 92.04L561.37 92.56L561.91 93.07L562.43 93.58L562.94 94.09L563.42 94.6L563.87 95.11L564.31 95.62L564.73 96.13L565.14 96.64L565.53 97.16L565.9 97.67L566.25 98.18L566.54 98.69L566.75 99.2L567.7 99.2Z" fill="#d2d2d2"/><path d="M666.3 17.6L665.54 17.6L665.48 18.11L665.41 18.62L665.33 19.13L665.24 19.64L665.14 20.14L665.04 20.65L664.94 21.16L664.84 21.67L664.73 22.18L664.62 22.69L664.51 23.2L664.39 23.71L664.28 24.22L664.16 24.73L664.04 25.23L663.92 25.74L663.79 26.25L663.66 26.76L663.53 27.27L663.4 27.78L663.26 28.29L663.12 28.8L662.98 29.31L662.83 29.81L662.68 30.32L662.52 30.83L662.36 31.34L662.2 31.85L662.03 32.36L661.86 32.87L661.68 33.38L661.5 33.89L661.32 34.39L661.13 34.9L660.94 35.41L660.74 35.92L660.53 36.43L660.31 36.94L660.08 37.45L659.84 37.96L659.58 38.47L659.3 38.98L659 39.48L658.65 39.99L658.25 40.5L657.78 41.01L657.23 41.52L656.63 42.03L656.01 42.54L655.43 43.05L654.91 43.56L654.49 44.06L654.18 44.57L653.95 45.08L653.77 45.59L653.63 46.1L653.52 46.61L653.42 47.12L653.33 47.63L653.27 48.14L653.22 48.64L653.2 49.15L653.2 49.66L653.24 50.17L653.3 50.68L653.4 51.19L653.53 51.7L653.69 52.21L653.86 52.72L654.05 53.23L654.26 53.73L654.49 54.24L654.74 54.75L655.02 55.26L655.34 55.77L655.7 56.28L656.1 56.79L656.53 57.3L656.98 57.81L657.45 58.31L657.92 58.82L658.38 59.33L658.82 59.84L659.24 60.35L659.64 60.86L660.01 61.37L660.37 61.88L660.72 62.39L661.06 62.89L661.4 63.4L661.73 63.91L662.04 64.42L662.35 64.93L662.64 65.44L662.91 65.95L663.17 66.46L663.42 66.97L663.65 67.47L663.87 67.98L664.08 68.49L664.29 69L664.49 69.51L664.68 70.02L664.86 70.53L665.04 71.04L665.2 71.55L665.36 72.06L665.51 72.56L665.64 73.07L665.76 73.58L665.86 74.09L665.92 74.6L666.3 74.6Z" fill="#d2d2d2"/><path d="M575.31 77.55h0M572.25 80.25h0M570.71 90.34h0M579.97 88.11h0M576.95 89.53h0M574.77 84.63h0M571.91 78.5h0M578.34 83.77h0M575.99 90.22h0M572.3 84.29h0M580.62 87.11h0M580.29 83.04h0M580.05 79.82h0M579.01 86.37h0M575.98 84.87h0M573.59 83.74h0M577.21 81.43h0M572.06 87.53h0M576.85 82.25h0M571.18 86.43h0M570.64 81.28h0M577.87 88.09h0M574.03 82.73h0M577.68 84.04h0M578.53 93.11h0M579.1 89.34h0M576.84 87.86h0M579.22 83.43h0M577.29 90.52h0M580.05 83.02h0M579.74 96.44h0M570.95 91.7h0M573.26 86.8h0M574.5 91.16h0M573.1 84.62h0M572.32 88.49h0M579.5 79.38h0M570.76 96.33h0M572.37 89.61h0M578.33 80.06h0M572.8 81.59h0M573.16 86.19h0M580.46 89.17h0M578.36 78.75h0M575.12 95.13h0M571.9 84.18h0M573.27 98.08h0M580.61 89.15h0M578.65 84.13h0M571.22 83.21h0M577.78 78.08h0M574.37 77.95h0M577.92 87.2h0M573.54 88.62h0M571.84 92.11h0M570.7 82.34h0M573.55 93.19h0M579.36 82.4h0M579.68 93.01h0M577.54 92.19h0M578.2 80.84h0M572.5 90.27h0M574.15 87.29h0M579.76 87.4h0M580.66 90.99h0M575.06 86.53h0M578.49 85.27h0M580.11 82.96h0M580.77 90.77h0M573.55 92.51h0M577.24 79.55h0M574.52 89.72h0M575.29 82.74h0M575.26 80.51h0M573.37 81.05h0M570.7 86.33h0M578.4 82.87h0M577.67 80.98h0M579.16 79.13h0M572.08 82.56h0M572.94 88.65h0M576.64 75.36h0M580.15 84.69h0M575.36 85.86h0M572.57 76.09h0M576.63 81.84h0M580.36 92.87h0M579.44 98.45h0M579.76 90.95h0M574.73 80.79h0M573.2 88.59h0M579.47 84.36h0M578.62 80.36h0M579.27 84.24h0M574.53 92.2h0M573.45 91.34h0M572.98 83.48h0" stroke="#787878" stroke-opacity="0.95" stroke-width="0.84" stroke-linecap="round" fill="none"/><path d="M673.88 58.24h0M674.97 60.9h0M674.17 45.53h0M669.45 59.15h0M671.96 46.13h0M679.39 47.69h0M669.39 50.34h0M676.95 42.34h0M674.2 43.13h0M676.66 43.91h0M672.66 43.4h0M673.06 49.27h0M674.63 35.72h0M678.83 55.82h0M672.61 40.61h0M670.02 48.07h0M669.51 52.24h0M678.53 38.62h0M672.46 46.86h0M670.38 50.88h0M675.48 49.96h0M678.14 58.43h0M675.52 56.36h0M670.72 37.18h0M673.44 56.57h0M671.95 49.86h0M669.28 52.47h0M679.43 40.42h0M674.01 48.47h0M670.54 52.66h0M678.57 56.32h0M679.64 56.1h0M677.83 42.8h0M671.81 56.62h0M671.14 49.25h0M674.72 52.72h0M675.34 57.62h0M678.5 46.51h0M679.45 59.82h0M678.84 59.18h0M672.76 57.19h0M675.37 45.17h0M670.43 50.06h0M674.65 39.74h0M669.86 56.16h0M670.29 59.62h0M670.4 39.33h0M672.33 55.15h0M672.41 53.57h0M676.64 28.76h0M669.91 61.09h0M670.29 48.13h0M676.12 42.52h0M676.3 29.03h0M676.7 55.43h0M676.81 44.82h0M676.19 49.32h0M675.01 40.21h0M677.03 50.57h0M669.97 46.28h0M671.37 56.06h0M677.03 52.66h0M671.16 54.56h0M674.78 42.68h0M671.89 32.73h0M673.71 59.21h0M678.03 61.36h0M676.17 52.2h0M673.86 60.55h0M672.03 54.14h0M677.71 51.45h0M676.13 47.03h0M673.81 44.88h0M678.4 48.68h0M676.51 41.64h0M679.59 47.58h0M676.21 48.96h0M678.73 27.78h0M674.99 46.9h0M676.7 44.18h0M678.11 51.57h0M670.07 57.06h0M674.17 51.27h0M675.58 52.42h0M669.72 51.46h0M677.54 42.69h0M676.76 45.82h0M679.12 57.45h0M673.08 63.43h0M674.12 41.15h0M678.86 23.3h0M673.5 64.83h0M678.03 58.07h0M673.61 51.45h0M672.71 57.08h0M672.07 51.1h0M671.38 61.28h0M673.72 42.81h0M670.83 47h0M677.96 53.38h0M679.53 41.58h0M670.14 53.67h0M669.69 41.74h0M669.14 54.2h0M679.07 56.66h0M669.89 47.54h0M676.38 68.96h0M672.35 52.65h0M671.22 54.88h0M671.74 26.6h0M676.48 36.21h0M669.29 53.56h0" stroke="#787878" stroke-opacity="0.95" stroke-width="0.84" stroke-linecap="round" fill="none"/><path d="M567.7 84.9L666.3 49.8" stroke="#000" stroke-width="1.15" fill="none"/><path d="M567.7 71.6V99.2" stroke="#000" stroke-width="1"/><path d="M567.7 81.9V89.5" stroke="#000" stroke-width="3"/><circle cx="567.7" cy="84.9" r="1.15" fill="#fff"/><path d="M570.3 77H581" stroke="#000" stroke-width="0.75" stroke-dasharray="2.3 1" fill="none"/><path d="M570.3 95.8H581" stroke="#000" stroke-width="0.75" stroke-dasharray="2.3 1" fill="none"/><path d="M666.3 24.6V74.6" stroke="#000" stroke-width="1"/><path d="M666.3 43.3V55.7" stroke="#000" stroke-width="3"/><circle cx="666.3" cy="49.8" r="1.15" fill="#fff"/><path d="M668.9 31.5H680" stroke="#000" stroke-width="0.75" stroke-dasharray="2.3 1" fill="none"/><path d="M668.9 67.7H680" stroke="#000" stroke-width="0.75" stroke-dasharray="2.3 1" fill="none"/><rect x="548.5" y="14" width="137.1" height="89.45" fill="none" stroke="#000" stroke-width="0.8"/><path d="M548.5 29h-2.5M548.5 48.83h-2.5M548.5 68.67h-2.5M548.5 88.5h-2.5M567.5 103.45v2.5M592.7 103.45v2.5M617.9 103.45v2.5M643.1 103.45v2.5M668.3 103.45v2.5" stroke="#000" stroke-width="0.7" fill="none"/><g font-size="6.85"><text x="544.4" y="31.5" text-anchor="end" textLength="10" lengthAdjust="spacingAndGlyphs">2.0</text><text x="544.4" y="51.33" text-anchor="end" textLength="10" lengthAdjust="spacingAndGlyphs">1.5</text><text x="544.4" y="71.17" text-anchor="end" textLength="10" lengthAdjust="spacingAndGlyphs">1.0</text><text x="544.4" y="91" text-anchor="end" textLength="10" lengthAdjust="spacingAndGlyphs">0.5</text><text x="567.5" y="112.9" text-anchor="middle">0</text><text x="592.7" y="112.9" text-anchor="middle">1</text><text x="617.9" y="112.9" text-anchor="middle">2</text><text x="643.1" y="112.9" text-anchor="middle">3</text><text x="668.3" y="112.9" text-anchor="middle">4</text></g><text x="617" y="121.45" font-size="6.6" text-anchor="middle" textLength="36.5" lengthAdjust="spacingAndGlyphs">Time [days]</text><text transform="translate(530.4 59.02) rotate(-90)" font-size="6.6" text-anchor="middle" textLength="108.5" lengthAdjust="spacingAndGlyphs">Growth rate [divisions day<tspan font-size="4.8" dy="-2.4">−1</tspan><tspan dy="2.4"> cell</tspan><tspan font-size="4.8" dy="-2.4">−1</tspan><tspan dy="2.4">]</tspan></text><text x="609" y="7.6" font-size="10.4" text-anchor="middle" textLength="48.6" lengthAdjust="spacingAndGlyphs">Day 4 sc.</text></g><g><path d="M45.6 202.2L43.27 202.2L42.9 202.71L42.4 203.22L41.81 203.73L41.18 204.24L40.51 204.76L39.82 205.27L39.08 205.78L38.3 206.29L37.47 206.8L36.62 207.31L35.79 207.82L35.02 208.33L34.35 208.84L33.8 209.36L33.37 209.87L33.02 210.38L32.74 210.89L32.51 211.4L32.33 211.91L32.19 212.42L32.12 212.93L32.1 213.44L32.15 213.96L32.27 214.47L32.46 214.98L32.7 215.49L32.99 216L33.31 216.51L33.65 217.02L34.02 217.53L34.4 218.04L34.8 218.56L35.23 219.07L35.69 219.58L36.2 220.09L36.73 220.6L37.29 221.11L37.85 221.62L38.41 222.13L38.96 222.64L39.47 223.16L39.96 223.67L40.43 224.18L40.87 224.69L41.3 225.2L41.72 225.71L42.13 226.22L42.53 226.73L42.92 227.24L43.31 227.76L43.68 228.27L44.03 228.78L44.32 229.29L44.55 229.8L45.6 229.8Z" fill="#d2d2d2"/><path d="M143.4 148.4L142.27 148.4L142.15 148.91L141.99 149.42L141.81 149.93L141.63 150.44L141.43 150.95L141.24 151.46L141.05 151.97L140.86 152.48L140.67 152.99L140.48 153.5L140.29 154.01L140.11 154.52L139.92 155.03L139.73 155.54L139.55 156.05L139.36 156.56L139.18 157.07L139.01 157.58L138.83 158.09L138.67 158.6L138.5 159.11L138.34 159.62L138.18 160.12L138.02 160.63L137.86 161.14L137.7 161.65L137.53 162.16L137.36 162.67L137.17 163.18L136.98 163.69L136.78 164.2L136.57 164.71L136.34 165.22L136.09 165.73L135.82 166.24L135.52 166.75L135.19 167.26L134.84 167.77L134.47 168.28L134.09 168.79L133.71 169.3L133.31 169.81L132.89 170.32L132.46 170.83L132.01 171.34L131.58 171.85L131.19 172.36L130.87 172.87L130.65 173.38L130.51 173.89L130.44 174.4L130.41 174.91L130.4 175.42L130.4 175.93L130.4 176.44L130.4 176.95L130.4 177.46L130.4 177.97L130.42 178.48L130.44 178.99L130.49 179.5L130.57 180.01L130.68 180.52L130.83 181.03L131 181.54L131.2 182.05L131.42 182.56L131.65 183.07L131.9 183.58L132.15 184.08L132.41 184.59L132.67 185.1L132.95 185.61L133.25 186.12L133.58 186.63L133.92 187.14L134.29 187.65L134.66 188.16L135.05 188.67L135.44 189.18L135.82 189.69L136.19 190.2L136.55 190.71L136.89 191.22L137.22 191.73L137.53 192.24L137.83 192.75L138.11 193.26L138.39 193.77L138.64 194.28L138.86 194.79L139.02 195.3L143.4 195.3Z" fill="#d2d2d2"/><path d="M55.69 220.42h0M53.63 215.63h0M55.17 209.79h0M55.68 209.21h0M58.21 216.9h0M49.48 216.54h0M58.26 211.84h0M53.07 211.19h0M50.31 213.48h0M52.04 222.73h0M51.94 214.29h0M57.25 219.76h0M53.54 216.64h0M48.97 215.76h0M55.45 213.32h0M53.28 215.61h0M56.45 213.2h0M48.76 217.22h0M56.95 209.04h0M57.23 211.72h0M48.38 220.94h0M53.07 212.16h0M49.52 220.28h0M53.59 222.89h0M49.19 215.21h0M57.17 207.15h0M50.14 219.66h0M54.98 217.06h0M54.84 210.5h0M51.51 220.23h0M50.44 213.58h0M57.45 205.3h0M48.7 206.14h0M50.84 209.54h0M51.57 216.17h0M54.14 219.33h0M51.99 207h0M49.41 203.8h0M54 215.34h0M55.54 212.68h0M55.35 213.08h0M53.2 220.24h0M51.37 222.23h0M48.4 225.58h0M53.63 218.9h0M54.59 202.72h0M52.71 207.52h0M57.89 214.73h0M50.32 224.65h0M56.44 207.62h0M55.49 214.37h0M57.29 212.91h0M57.55 212.48h0M50.67 210.38h0M57.52 210.27h0M52.33 210.56h0M55.09 207.67h0M57.83 214.74h0M54.25 213.09h0M54.13 217.76h0M49.01 216.38h0M54.27 223.72h0M50.71 212.53h0M52.18 221.41h0M52.08 212.36h0M58.03 217.3h0M54.68 219.83h0M55.55 212.49h0M50.03 213.53h0M51.34 215.54h0M57.07 207.36h0M49.5 213.39h0M57.83 207.9h0M52.57 208.9h0M52.2 216.28h0M53.45 225h0M52.73 228.93h0M53.01 210.34h0M52.54 208.58h0M55.32 214.63h0M51.06 214.07h0M49.96 212.45h0M52.65 218.99h0M49.18 217.12h0M52.77 215.33h0M53.24 215.99h0M56.14 215.05h0M49.39 216.79h0M52.27 222.88h0M56.11 223.9h0M51.68 226.25h0M56.66 220.38h0M55.48 207.17h0M48.72 213.71h0M52.15 217.97h0M55.96 210.67h0M53.57 216.45h0" stroke="#787878" stroke-opacity="0.95" stroke-width="0.84" stroke-linecap="round" fill="none"/><path d="M154.03 181.41h0M150.43 194.5h0M148.98 181.63h0M152.02 178.42h0M149.47 186.22h0M154.94 174.3h0M152.54 151.67h0M149.59 171.48h0M154.8 179.44h0M152.72 190.95h0M147.77 179.17h0M150.71 171.17h0M151.49 194.54h0M156.23 174.07h0M149.73 168.91h0M151.06 179.12h0M156.56 172.94h0M150.83 163.04h0M155 181.47h0M147.41 181.19h0M150.5 192.95h0M148.31 165.34h0M155.59 188.73h0M152.15 184.62h0M148.67 170.02h0M147.36 175.65h0M150.78 180.62h0M147.4 172.24h0M151.45 164.3h0M153.98 185.53h0M149.63 166.44h0M148.14 176.93h0M150.16 175.05h0M148.13 187.79h0M155.18 177.71h0M147.4 174.89h0M154.11 193.15h0M149.87 173h0M153.98 183.01h0M154.42 169.99h0M147.8 183.54h0M154.27 183.22h0M156.23 185.48h0M152.3 176.62h0M153.11 169.51h0M149.75 180.05h0M148.21 189.05h0M154.14 171.75h0M154.93 153.62h0M148.54 166.99h0M147.58 190.37h0M150.06 151.39h0M152.91 159.4h0M150.2 162.43h0M156.43 188.43h0M154.63 174.48h0M155.93 182.05h0M152.64 181.63h0M154.26 174.98h0M156.29 182.73h0M146.77 175.26h0M152.38 178h0M148.35 172.34h0M154.67 149.3h0M148.82 180.03h0M154.11 170.44h0M149.86 170.79h0M153.18 187.34h0M153.46 172.92h0M155.85 162.9h0M155.47 179.98h0M150.95 178.51h0M153.57 159.27h0M148.3 173.22h0M147.42 179.38h0M153.83 170.33h0M155.83 193.77h0M154.17 184.23h0M151.77 177.3h0M152.95 189.06h0M153.99 157.29h0M152.32 169.51h0M150.18 189.46h0M155.25 177.05h0M150.24 166.89h0M155.8 178.79h0M154.71 183.07h0M154.65 178.94h0M155.07 158.01h0M156.66 158.02h0M156.69 174.36h0M151.61 153.49h0M150.32 160.96h0M154.03 179.56h0M156.47 175.78h0M152.95 161.45h0M146.67 187.51h0M146.8 174.37h0M151.23 188.89h0M154.59 179h0M155.63 180.26h0M150.3 175.14h0M151.78 181.24h0M151.74 170.08h0M147.38 170.3h0M146.41 188.1h0M151.85 168.62h0M151.64 174.06h0M155.38 183.64h0M148.29 172.91h0M155.27 173.61h0M149.22 188.94h0M152.01 169.31h0M153.75 170.01h0M147.91 187.74h0M156.24 170.47h0M156.36 172.31h0M156.49 187.06h0M146.42 172.28h0M153.09 195.07h0" stroke="#787878" stroke-opacity="0.95" stroke-width="0.84" stroke-linecap="round" fill="none"/><path d="M45.6 214.7L143.4 177.2" stroke="#000" stroke-width="1.15" fill="none"/><path d="M45.6 202.2V229.8" stroke="#000" stroke-width="1"/><path d="M45.6 211.1V219.5" stroke="#000" stroke-width="3"/><circle cx="45.6" cy="214.7" r="1.15" fill="#fff"/><path d="M48.1 207.1H58.5" stroke="#000" stroke-width="0.75" stroke-dasharray="2.3 1" fill="none"/><path d="M48.1 226.7H58.5" stroke="#000" stroke-width="0.75" stroke-dasharray="2.3 1" fill="none"/><path d="M143.4 148.4V195.3" stroke="#000" stroke-width="1"/><path d="M143.4 169V183.9" stroke="#000" stroke-width="3"/><circle cx="143.4" cy="177.2" r="1.15" fill="#fff"/><path d="M146.2 157.6H157" stroke="#000" stroke-width="0.75" stroke-dasharray="2.3 1" fill="none"/><path d="M146.2 194.3H157" stroke="#000" stroke-width="0.75" stroke-dasharray="2.3 1" fill="none"/><rect x="26" y="144.5" width="137.1" height="89.8" fill="none" stroke="#000" stroke-width="0.8"/><path d="M26 160.5h-2.5M26 178.25h-2.5M26 196h-2.5M26 213.75h-2.5M26 231.5h-2.5M45.5 234.3v2.5M70.1 234.3v2.5M94.7 234.3v2.5M119.3 234.3v2.5M143.9 234.3v2.5" stroke="#000" stroke-width="0.7" fill="none"/><g font-size="6.85"><text x="21.9" y="163" text-anchor="end" textLength="10" lengthAdjust="spacingAndGlyphs">2.0</text><text x="21.9" y="180.75" text-anchor="end" textLength="10" lengthAdjust="spacingAndGlyphs">1.5</text><text x="21.9" y="198.5" text-anchor="end" textLength="10" lengthAdjust="spacingAndGlyphs">1.0</text><text x="21.9" y="216.25" text-anchor="end" textLength="10" lengthAdjust="spacingAndGlyphs">0.5</text><text x="21.9" y="234" text-anchor="end" textLength="10" lengthAdjust="spacingAndGlyphs">0.0</text><text x="45.5" y="243.75" text-anchor="middle">0</text><text x="70.1" y="243.75" text-anchor="middle">1</text><text x="94.7" y="243.75" text-anchor="middle">2</text><text x="119.3" y="243.75" text-anchor="middle">3</text><text x="143.9" y="243.75" text-anchor="middle">4</text></g><text x="94.3" y="252.3" font-size="6.6" text-anchor="middle" textLength="36.5" lengthAdjust="spacingAndGlyphs">Time [days]</text><text transform="translate(7.75 189.7) rotate(-90)" font-size="6.6" text-anchor="middle" textLength="108.5" lengthAdjust="spacingAndGlyphs">Growth rate [divisions day<tspan font-size="4.8" dy="-2.4">−1</tspan><tspan dy="2.4"> cell</tspan><tspan font-size="4.8" dy="-2.4">−1</tspan><tspan dy="2.4">]</tspan></text><text x="81.5" y="137.8" font-size="10.4" text-anchor="middle" textLength="48.6" lengthAdjust="spacingAndGlyphs">Day 5 sc.</text></g><g><path d="M216.5 203.3L210.56 203.3L210.04 203.81L209.37 204.32L208.65 204.83L207.94 205.34L207.3 205.85L206.74 206.36L206.25 206.87L205.84 207.38L205.49 207.89L205.18 208.4L204.91 208.91L204.67 209.42L204.46 209.93L204.29 210.43L204.13 210.94L204 211.45L203.89 211.96L203.78 212.47L203.7 212.98L203.63 213.49L203.6 214L203.62 214.51L203.7 215.02L203.87 215.53L204.12 216.04L204.44 216.55L204.82 217.06L205.24 217.57L205.68 218.08L206.13 218.59L206.59 219.1L207.08 219.61L207.59 220.12L208.13 220.63L208.67 221.14L209.23 221.65L209.77 222.16L210.3 222.67L210.81 223.18L211.31 223.68L211.78 224.19L212.24 224.7L212.69 225.21L213.12 225.72L213.54 226.23L213.94 226.74L214.32 227.25L214.68 227.76L215.03 228.27L215.33 228.78L215.59 229.29L215.79 229.8L216.5 229.8Z" fill="#d2d2d2"/><path d="M315 148.8L313.02 148.8L312.95 149.31L312.86 149.81L312.75 150.32L312.62 150.83L312.49 151.33L312.35 151.84L312.2 152.35L312.05 152.85L311.88 153.36L311.72 153.87L311.54 154.38L311.37 154.88L311.19 155.39L311 155.9L310.81 156.4L310.61 156.91L310.4 157.42L310.18 157.92L309.95 158.43L309.71 158.94L309.46 159.44L309.2 159.95L308.93 160.46L308.65 160.96L308.38 161.47L308.1 161.98L307.82 162.48L307.54 162.99L307.25 163.5L306.96 164L306.66 164.51L306.35 165.02L306.03 165.53L305.71 166.03L305.39 166.54L305.08 167.05L304.78 167.55L304.5 168.06L304.23 168.57L303.98 169.07L303.76 169.58L303.55 170.09L303.36 170.59L303.18 171.1L303 171.61L302.83 172.11L302.67 172.62L302.51 173.13L302.38 173.63L302.26 174.14L302.16 174.65L302.08 175.15L302.03 175.66L302 176.17L302 176.68L302.02 177.18L302.06 177.69L302.12 178.2L302.2 178.7L302.29 179.21L302.39 179.72L302.51 180.22L302.63 180.73L302.76 181.24L302.9 181.74L303.05 182.25L303.22 182.76L303.4 183.26L303.62 183.77L303.86 184.28L304.14 184.78L304.44 185.29L304.76 185.8L305.1 186.3L305.46 186.81L305.83 187.32L306.2 187.82L306.58 188.33L306.96 188.84L307.36 189.35L307.76 189.85L308.18 190.36L308.62 190.87L309.06 191.37L309.52 191.88L309.96 192.39L310.35 192.89L310.65 193.4L315 193.4Z" fill="#d2d2d2"/><path d="M229.9 217.01h0M221.34 220.54h0M225.33 207.36h0M226.55 207.64h0M227.99 218.81h0M228.02 210.12h0M223.5 205.54h0M222.27 206.01h0M229.79 215.59h0M225.26 214.82h0M222.39 218.35h0M220.87 217.79h0M227.91 202.91h0M228.39 223.48h0M225.44 220.51h0M223.47 221.91h0M226.39 218.05h0M229.79 211.58h0M225.53 209.27h0M227.74 221.53h0M228.75 212.08h0M227.42 213.09h0M224.56 216.89h0M221.29 216.14h0M226.78 216.49h0M228.21 215.4h0M229.61 214.3h0M221.01 218.2h0M220.6 211.78h0M226.14 209.84h0M228.17 221.85h0M220.21 220.32h0M225.91 217.32h0M222.22 208.72h0M229.99 205.67h0M223.23 222.13h0M220.27 222.84h0M227.7 210.19h0M222.59 215.82h0M223.84 204.03h0M220.78 211.06h0M222.91 215.9h0M220.81 211.43h0M222.13 219.25h0M225.53 222.18h0M222.57 206.55h0M226.48 217.06h0M228.95 211.24h0M225.51 208.14h0M219.7 211.27h0M229.57 212.82h0M221.5 220.9h0M223.07 216.94h0M224.98 203.04h0M225.96 204.4h0M223.03 227.6h0M224.07 214.44h0M226.04 215.71h0M224.25 211.3h0M222.4 219.11h0M223.75 214.59h0M223.48 214.78h0M222.49 209.65h0M225.77 218.37h0M224.83 208.2h0M223.76 207.2h0M226.92 215.08h0M228.01 219.29h0M226.28 210.55h0M223.02 211.12h0M229.33 207.26h0M220.5 214.97h0M227.94 216.96h0M223.87 206.89h0M223.61 213.85h0M228.34 213.06h0M226.35 206.68h0M229.72 214.29h0M228.71 209.37h0M220.63 208.23h0M224.73 225.63h0M227.54 206.54h0M220.28 210.2h0M225.15 215.23h0M229.92 212.96h0M221.93 204.08h0M220.64 220.55h0M222.47 209.08h0M223.05 211.51h0M222.43 221.61h0M223.98 224.84h0M228.23 221.34h0M224.88 212.25h0M225.65 218.18h0M220.56 220.38h0M220.09 207.59h0M229.48 224.14h0" stroke="#787878" stroke-opacity="0.95" stroke-width="0.84" stroke-linecap="round" fill="none"/><path d="M319.87 170.62h0M324.43 189.71h0M327.69 171.56h0M318.6 178.14h0M321.8 178.85h0M321.43 161.35h0M318.55 159.41h0M324.01 174.2h0M328.12 163.89h0M320.63 169.68h0M325.41 165.92h0M327.25 169.03h0M320.57 174.48h0M327.44 169.88h0M325.63 171.22h0M324.54 175.27h0M319.76 179.59h0M320.64 157.69h0M318.78 193.63h0M327.19 174.14h0M326.27 187.54h0M318.62 150.75h0M323.33 158.19h0M319.96 161.47h0M325.82 187.1h0M323.78 173.43h0M327.72 185.25h0M325.41 180.79h0M318.77 160.67h0M321.65 172.46h0M323.81 171.04h0M327.37 172.93h0M321.63 181.96h0M319.69 160.59h0M320.7 188.77h0M320.33 174.77h0M319.34 171.81h0M321.35 180.36h0M320.34 169.6h0M323.11 180.88h0M327.18 173.02h0M327.82 174.59h0M319.39 166.46h0M323.74 166.46h0M324.84 184.82h0M319.32 177.79h0M323.34 173.14h0M319.82 183.07h0M321.56 187.83h0M321.13 165.48h0M326.34 193.67h0M320.18 152.29h0M323.43 178.37h0M323.91 168.21h0M321.2 169.31h0M327.55 175.6h0M321.22 178.9h0M321.16 173.72h0M325.04 180.12h0M322.87 190.27h0M325.38 165.38h0M319.32 168.05h0M319.27 178.37h0M325.5 173.49h0M321.82 170.73h0M326.79 174.84h0M320.18 181.21h0M320.25 187.23h0M326.85 188.77h0M321.53 185.12h0M318.86 171.85h0M320.04 186.32h0M325.86 180.1h0M320.51 165.65h0M323.59 189.94h0M326.55 168.27h0M324.17 179.65h0M325.68 180.21h0M328.06 186.84h0M320.87 179.95h0M326.99 192.08h0M323.54 159.19h0M319.84 155.91h0M319.1 166.56h0M321.18 177.73h0M319.16 173.28h0M325.88 160.47h0M323.61 167.75h0M318.17 177.66h0M327.01 173.39h0M324.02 182.34h0M322.39 174.69h0M319.19 185.4h0M322.68 182.41h0M327.42 175.97h0M323.89 172.76h0M322.57 167.73h0M324.15 170.1h0M323.54 171.66h0M324.31 171.51h0M319.81 165.68h0M319.28 175.13h0M317.83 162.06h0M326.52 186.38h0M317.73 176.32h0M320.42 160.52h0M323.9 170.33h0M323 167.74h0M327.26 164.07h0M319.96 175.59h0M318.91 165.84h0M319.4 164.66h0M322.98 181.4h0M320.79 174.31h0M322.53 179.74h0M324.99 175.41h0M321.11 175.81h0M324.75 170.33h0M317.91 173.82h0M323.49 174.31h0" stroke="#787878" stroke-opacity="0.95" stroke-width="0.84" stroke-linecap="round" fill="none"/><path d="M216.5 214.7L315 176" stroke="#000" stroke-width="1.15" fill="none"/><path d="M216.5 203.3V229.8" stroke="#000" stroke-width="1"/><path d="M216.5 209.6V218.5" stroke="#000" stroke-width="3"/><circle cx="216.5" cy="214.7" r="1.15" fill="#fff"/><path d="M219.2 204.3H230.2" stroke="#000" stroke-width="0.75" stroke-dasharray="2.3 1" fill="none"/><path d="M219.2 222.9H230.2" stroke="#000" stroke-width="0.75" stroke-dasharray="2.3 1" fill="none"/><path d="M315 148.8V193.4" stroke="#000" stroke-width="1"/><path d="M315 167.1V182.3" stroke="#000" stroke-width="3"/><circle cx="315" cy="176" r="1.15" fill="#fff"/><path d="M317.5 158H328.5" stroke="#000" stroke-width="0.75" stroke-dasharray="2.3 1" fill="none"/><path d="M317.5 192.4H328.5" stroke="#000" stroke-width="0.75" stroke-dasharray="2.3 1" fill="none"/><rect x="197.5" y="144.5" width="137" height="89.8" fill="none" stroke="#000" stroke-width="0.8"/><path d="M197.5 154.35h-2.5M197.5 173.39h-2.5M197.5 192.43h-2.5M197.5 211.46h-2.5M197.5 230.5h-2.5M216.6 234.3v2.5M241.1 234.3v2.5M265.6 234.3v2.5M290.1 234.3v2.5M314.6 234.3v2.5" stroke="#000" stroke-width="0.7" fill="none"/><g font-size="6.85"><text x="193.4" y="156.85" text-anchor="end" textLength="10" lengthAdjust="spacingAndGlyphs">2.0</text><text x="193.4" y="175.89" text-anchor="end" textLength="10" lengthAdjust="spacingAndGlyphs">1.5</text><text x="193.4" y="194.93" text-anchor="end" textLength="10" lengthAdjust="spacingAndGlyphs">1.0</text><text x="193.4" y="213.96" text-anchor="end" textLength="10" lengthAdjust="spacingAndGlyphs">0.5</text><text x="193.4" y="233" text-anchor="end" textLength="10" lengthAdjust="spacingAndGlyphs">0.0</text><text x="216.6" y="243.75" text-anchor="middle">0</text><text x="241.1" y="243.75" text-anchor="middle">1</text><text x="265.6" y="243.75" text-anchor="middle">2</text><text x="290.1" y="243.75" text-anchor="middle">3</text><text x="314.6" y="243.75" text-anchor="middle">4</text></g><text x="266.2" y="252.3" font-size="6.6" text-anchor="middle" textLength="36.5" lengthAdjust="spacingAndGlyphs">Time [days]</text><text transform="translate(178.9 189.7) rotate(-90)" font-size="6.6" text-anchor="middle" textLength="108.5" lengthAdjust="spacingAndGlyphs">Growth rate [divisions day<tspan font-size="4.8" dy="-2.4">−1</tspan><tspan dy="2.4"> cell</tspan><tspan font-size="4.8" dy="-2.4">−1</tspan><tspan dy="2.4">]</tspan></text><text x="252.9" y="137.8" font-size="10.4" text-anchor="middle" textLength="48.6" lengthAdjust="spacingAndGlyphs">Day 6 sc.</text></g><g><path d="M399.6 196.8L399.26 196.8L399.22 197.31L399.14 197.82L399.04 198.32L398.9 198.83L398.73 199.34L398.53 199.85L398.3 200.35L398.05 200.86L397.77 201.37L397.44 201.88L397.04 202.38L396.55 202.89L395.98 203.4L395.32 203.91L394.6 204.42L393.86 204.92L393.12 205.43L392.41 205.94L391.74 206.45L391.12 206.95L390.54 207.46L389.98 207.97L389.44 208.48L388.91 208.98L388.42 209.49L387.98 210L387.61 210.51L387.31 211.02L387.12 211.52L387.01 212.03L387 212.54L387.07 213.05L387.2 213.55L387.38 214.06L387.6 214.57L387.86 215.08L388.13 215.58L388.43 216.09L388.73 216.6L389.06 217.11L389.4 217.62L389.78 218.12L390.19 218.63L390.62 219.14L391.09 219.65L391.57 220.15L392.06 220.66L392.55 221.17L393.04 221.68L393.52 222.18L394 222.69L394.49 223.2L394.97 223.71L395.46 224.22L395.94 224.72L396.41 225.23L396.85 225.74L397.27 226.25L397.65 226.75L398 227.26L398.31 227.77L398.59 228.28L398.82 228.78L399.01 229.29L399.15 229.8L399.6 229.8Z" fill="#d2d2d2"/><path d="M495.3 148.8L493.62 148.8L493.46 149.31L493.25 149.81L493.01 150.32L492.76 150.82L492.51 151.33L492.27 151.84L492.03 152.34L491.79 152.85L491.56 153.35L491.35 153.86L491.13 154.37L490.93 154.87L490.72 155.38L490.5 155.88L490.27 156.39L490.03 156.9L489.76 157.4L489.45 157.91L489.1 158.41L488.69 158.92L488.23 159.43L487.71 159.93L487.15 160.44L486.59 160.94L486.03 161.45L485.5 161.95L485.02 162.46L484.6 162.97L484.24 163.47L483.92 163.98L483.64 164.48L483.39 164.99L483.17 165.5L482.99 166L482.84 166.51L482.72 167.01L482.64 167.52L482.57 168.03L482.52 168.53L482.47 169.04L482.44 169.54L482.41 170.05L482.4 170.56L482.42 171.06L482.47 171.57L482.57 172.07L482.73 172.58L482.94 173.09L483.21 173.59L483.53 174.1L483.87 174.6L484.25 175.11L484.64 175.62L485.03 176.12L485.43 176.63L485.82 177.13L486.21 177.64L486.6 178.15L487 178.65L487.41 179.16L487.84 179.66L488.28 180.17L488.72 180.68L489.16 181.18L489.59 181.69L490.01 182.19L490.41 182.7L490.78 183.2L491.13 183.71L491.46 184.22L491.77 184.72L492.07 185.23L492.36 185.73L492.64 186.24L492.92 186.75L493.18 187.25L493.43 187.76L493.68 188.26L493.91 188.77L494.13 189.28L494.33 189.78L494.51 190.29L494.67 190.79L494.78 191.3L495.3 191.3Z" fill="#d2d2d2"/><path d="M404.9 221.84h0M410.57 221.57h0M405.51 214.97h0M406.51 226.31h0M403.7 209.7h0M411.42 210.68h0M406.17 212.6h0M409.48 212.91h0M402.67 219.19h0M409.44 212.79h0M404.69 205.22h0M406.96 217.84h0M409.21 209.54h0M404.12 220.75h0M407.72 209.77h0M410.84 209.71h0M404.05 206.91h0M407.12 210.3h0M404.26 214.57h0M403.85 210.28h0M407.35 204.71h0M407.01 215.54h0M408.9 217.96h0M411.06 207.18h0M409.54 212.07h0M405.8 205.93h0M407.31 203.15h0M409.21 211.02h0M410.87 210.41h0M409.3 220.68h0M407.48 202.39h0M403.75 216.42h0M411.17 217.78h0M405.24 211.75h0M406.49 213.44h0M411.33 209.18h0M404.49 209.98h0M411.63 204.63h0M404.71 221.73h0M403.28 203.99h0M407.59 207.96h0M410.43 216.93h0M406.46 212.02h0M410.91 214.42h0M406.4 210.27h0M410.63 208.69h0M403.54 218.69h0M405.26 207.5h0M403.64 211.3h0M409.87 217.69h0M407.14 211.12h0M409.02 222.37h0M404.81 208.73h0M409.82 213.65h0M412.43 213.86h0M403.2 213.37h0M405.62 218.14h0M411.18 205.59h0M411 213.12h0M411.21 218.3h0M404.69 204.61h0M408.09 214.63h0M403.27 212.29h0M406.75 212.21h0M408.22 213.72h0M405.01 215.61h0M406.66 217.13h0M406.1 220.82h0M403.25 215.83h0M403.09 227.93h0M410.29 216.1h0M402.43 210.39h0M412.36 207.43h0M411.46 206.27h0M412.37 208.91h0M410.33 206.13h0M402.42 215.57h0M403.57 216.13h0M405.62 215.08h0M404.23 211.63h0M403.01 212.8h0M411.66 210.17h0M411.59 221.49h0M410.15 201.98h0M404.96 210.14h0M411.01 215.51h0M410.67 207.22h0M405.67 219.68h0M403.69 213.81h0M403.77 211.74h0M406.53 205.02h0M410.8 210.15h0M403.17 215.15h0M406.74 210.76h0M405.98 204.27h0M411.41 214.94h0M403.94 210.63h0M409.02 220.12h0M405.66 217.11h0M408.93 216.78h0M410.7 220.04h0M410.73 218.91h0M410.94 211.78h0M405.36 214.74h0M405.19 209.91h0" stroke="#787878" stroke-opacity="0.95" stroke-width="0.84" stroke-linecap="round" fill="none"/><path d="M508 160.04h0M500.31 163.4h0M504.38 159.93h0M498.74 175.81h0M504.06 155.58h0M505.17 161.39h0M505.55 175.54h0M506.71 175.38h0M500.85 184.31h0M499.01 167.46h0M506.3 154.61h0M498.07 176.47h0M500.22 164.41h0M500.26 175.35h0M505.86 152.77h0M502.4 154.64h0M506.51 171.05h0M504.75 173.23h0M506.57 170.01h0M505.98 169.28h0M506.95 171.59h0M500.67 160.36h0M501.5 155.92h0M504.34 165.72h0M503.86 170.31h0M505.89 164.62h0M506.21 162.52h0M500.97 168.6h0M499.06 166.54h0M505.51 164.27h0M504.95 180.9h0M500.68 181.79h0M498.39 155.61h0M498.04 168.78h0M500.38 164.44h0M500.64 166.59h0M499.96 153.59h0M498.33 157.36h0M499.57 155.19h0M501.44 159.9h0M498.76 172.99h0M499.95 158.69h0M502.36 178.33h0M506.62 176.2h0M506.86 164.16h0M502.01 173.56h0M499.11 182.37h0M500.6 160.74h0M504.82 170.85h0M502.04 168.59h0M503.73 165.84h0M505.46 164.63h0M504.65 158.06h0M506.74 173.47h0M498.69 162.11h0M500.89 167.46h0M498.15 180.74h0M503.22 165.59h0M504.19 164.36h0M500.44 181.49h0M498.38 170.64h0M502.62 170.5h0M499.54 162.99h0M499.82 171.74h0M501.77 166.24h0M507.63 170.3h0M501.54 168.37h0M505.18 158.28h0M501.67 178.86h0M502.01 172.56h0M499.26 182.69h0M499.72 164.6h0M505.81 165.01h0M502.26 160.45h0M500.77 165.2h0M508.07 165.57h0M506.93 161.84h0M500.55 163.46h0M502.32 165.2h0M503.7 177.09h0M499.53 167.61h0M502.24 176.4h0M500.75 155.3h0M506.23 162.4h0M498.78 182.77h0M508.11 155.82h0M500.25 157.24h0M501.24 169.7h0M498.59 165.24h0M507.29 161.5h0M506.41 171.74h0M498.5 171.09h0M503.29 161.64h0M501.86 170.12h0M504.1 168.18h0M501.29 177.69h0M507.75 157.63h0M500.07 162.29h0M506.33 170.62h0M500.58 155.13h0M504.55 177.8h0M502.25 184.32h0M503.27 165.73h0M503.23 174.57h0M504.31 163.28h0M498.51 182.29h0M498.42 163.38h0M507.9 150h0M500.43 156.93h0M501.51 168.59h0M500.29 153.76h0M504.51 184.83h0" stroke="#787878" stroke-opacity="0.95" stroke-width="0.84" stroke-linecap="round" fill="none"/><path d="M399.6 213.6L495.3 170.3" stroke="#000" stroke-width="1.15" fill="none"/><path d="M399.6 196.8V229.8" stroke="#000" stroke-width="1"/><path d="M399.6 209.6V218.5" stroke="#000" stroke-width="3"/><circle cx="399.6" cy="213.6" r="1.15" fill="#fff"/><path d="M402.2 203.3H412.7" stroke="#000" stroke-width="0.75" stroke-dasharray="2.3 1" fill="none"/><path d="M402.2 225.4H412.7" stroke="#000" stroke-width="0.75" stroke-dasharray="2.3 1" fill="none"/><path d="M495.3 148.8V191.3" stroke="#000" stroke-width="1"/><path d="M495.3 163.3V176.1" stroke="#000" stroke-width="3"/><circle cx="495.3" cy="170.3" r="1.15" fill="#fff"/><path d="M497.6 154.5H508.4" stroke="#000" stroke-width="0.75" stroke-dasharray="2.3 1" fill="none"/><path d="M497.6 186.2H508.4" stroke="#000" stroke-width="0.75" stroke-dasharray="2.3 1" fill="none"/><rect x="381" y="144.5" width="133.3" height="89.8" fill="none" stroke="#000" stroke-width="0.8"/><path d="M381 159.6h-2.5M381 183.9h-2.5M381 208.2h-2.5M381 232.5h-2.5M399.7 234.3v2.5M423.9 234.3v2.5M448.1 234.3v2.5M472.3 234.3v2.5M496.5 234.3v2.5" stroke="#000" stroke-width="0.7" fill="none"/><g font-size="6.85"><text x="376.9" y="162.1" text-anchor="end" textLength="10" lengthAdjust="spacingAndGlyphs">1.5</text><text x="376.9" y="186.4" text-anchor="end" textLength="10" lengthAdjust="spacingAndGlyphs">1.0</text><text x="376.9" y="210.7" text-anchor="end" textLength="10" lengthAdjust="spacingAndGlyphs">0.5</text><text x="376.9" y="235" text-anchor="end" textLength="10" lengthAdjust="spacingAndGlyphs">0.0</text><text x="399.7" y="243.75" text-anchor="middle">0</text><text x="423.9" y="243.75" text-anchor="middle">1</text><text x="448.1" y="243.75" text-anchor="middle">2</text><text x="472.3" y="243.75" text-anchor="middle">3</text><text x="496.5" y="243.75" text-anchor="middle">4</text></g><text x="447.6" y="252.3" font-size="6.6" text-anchor="middle" textLength="36.5" lengthAdjust="spacingAndGlyphs">Time [days]</text><text transform="translate(362.7 189.7) rotate(-90)" font-size="6.6" text-anchor="middle" textLength="108.5" lengthAdjust="spacingAndGlyphs">Growth rate [divisions day<tspan font-size="4.8" dy="-2.4">−1</tspan><tspan dy="2.4"> cell</tspan><tspan font-size="4.8" dy="-2.4">−1</tspan><tspan dy="2.4">]</tspan></text><text x="432.4" y="137.8" font-size="10.4" text-anchor="middle" textLength="48.6" lengthAdjust="spacingAndGlyphs">Day 7 sc.</text></g><g><path d="M571.05 212.1L569.44 212.1L569.18 212.61L568.84 213.13L568.44 213.64L568 214.16L567.55 214.67L567.09 215.19L566.61 215.7L566.12 216.21L565.61 216.73L565.1 217.24L564.57 217.76L564.03 218.27L563.5 218.79L562.97 219.3L562.44 219.81L561.92 220.33L561.39 220.84L560.88 221.36L560.38 221.87L559.91 222.39L559.49 222.9L559.1 223.41L558.78 223.93L558.52 224.44L558.37 224.96L558.35 225.47L558.49 225.99L558.77 226.5L559.18 227.01L559.7 227.53L560.29 228.04L560.96 228.56L561.66 229.07L562.32 229.59L562.86 230.1L571.05 230.1Z" fill="#d2d2d2"/><path d="M666.3 148.4L661.9 148.4L661.6 148.91L661.19 149.42L660.74 149.93L660.27 150.44L659.79 150.95L659.33 151.46L658.87 151.97L658.42 152.48L657.97 152.99L657.51 153.5L657.04 154.01L656.56 154.52L656.08 155.03L655.6 155.54L655.14 156.05L654.72 156.56L654.36 157.07L654.06 157.58L653.85 158.09L653.73 158.6L653.71 159.11L653.78 159.62L653.93 160.13L654.15 160.64L654.42 161.15L654.74 161.66L655.08 162.17L655.45 162.68L655.83 163.19L656.24 163.7L656.69 164.2L657.17 164.71L657.69 165.22L658.23 165.73L658.78 166.24L659.32 166.75L659.84 167.26L660.32 167.77L660.77 168.28L661.19 168.79L661.56 169.3L661.92 169.81L662.25 170.32L662.57 170.83L662.87 171.34L663.17 171.85L663.45 172.36L663.73 172.87L663.99 173.38L664.24 173.89L664.47 174.4L664.68 174.91L664.88 175.42L665.06 175.93L665.23 176.44L665.38 176.95L665.53 177.46L665.66 177.97L665.77 178.48L665.86 178.99L665.93 179.5L666.3 179.5Z" fill="#d2d2d2"/><path d="M576.41 230.02h0M577.42 222.18h0M579.41 221.64h0M582.85 221.02h0M575.9 214.17h0M577.72 217.56h0M574.02 216.32h0M573.43 221.18h0M575.91 229.36h0M581.73 219.06h0M580.36 224.23h0M578.31 219.69h0M577.62 215.6h0M576.13 227.65h0M581.29 218.89h0M578.42 218.92h0M574.12 227.02h0M579.86 220.52h0M583.63 219.78h0M574.15 228.34h0M583.67 219.24h0M574.42 227.97h0M576.57 220.73h0M583.46 225.1h0M583.41 221.73h0M575.3 221.9h0M580.82 229.12h0M579.71 228.73h0M577.5 219.97h0M581.47 226.06h0M579.94 218.51h0M575.72 221.3h0M578.45 217.69h0M580.71 225.93h0M579.8 225.82h0M578.99 226.33h0M581 226.45h0M574.79 222.68h0M573.84 219.51h0M573.74 213.97h0M579.79 222.3h0M577.87 229.38h0M582.01 223.53h0M583.41 224.77h0M574.55 228.54h0M577.3 227.63h0M577.72 226.45h0M579.03 225.39h0M582.77 219.62h0M579.58 227.18h0M576.54 222.76h0M580.23 226.82h0M576.79 220.45h0M579.12 229.6h0M574.42 219.43h0M579.21 227.54h0M578.33 228.27h0M580.05 218.48h0M579.24 228.25h0M579.3 225.78h0M580.99 226.05h0M574.77 219.74h0M581.14 221.73h0M579.82 220.98h0M580.49 222.6h0M577.52 225.35h0M574.28 227.37h0M582.9 226.77h0M581.92 221.63h0M583.45 222.65h0M578.14 227.28h0M582.51 229.95h0M582.38 220.41h0M579.06 223.02h0M582.68 220.65h0M581.79 229.31h0M574.46 214.44h0M574.78 228.35h0M577.6 227.66h0M578.89 221.71h0M580.12 224.6h0M579.21 222.2h0M582.42 225.49h0M581.65 223.24h0M574.46 228.63h0M576.89 223.01h0M582.55 228h0M581.18 224.39h0M573.56 222.76h0M579.86 229.29h0M574.7 219.16h0M578.58 229.21h0M583.64 228.44h0M574.17 227.28h0M581.88 225.29h0M578.38 225.02h0M583.48 229.18h0M582.25 223.09h0M574.07 227.18h0M580.03 227.9h0M582.26 227.72h0M576.28 223.15h0M580.66 224.97h0M576.02 217.06h0M575.51 217.12h0M576.82 218.13h0M576.42 226.39h0M583.31 221.84h0M575.82 228.85h0M577.77 216.18h0M578.4 219.15h0M580.52 227.43h0" stroke="#787878" stroke-opacity="0.95" stroke-width="0.84" stroke-linecap="round" fill="none"/><path d="M670.99 171.72h0M673.43 161.27h0M672.95 167.07h0M672.15 153.88h0M678.45 161.62h0M677.24 153.86h0M674.37 167.35h0M679.4 160.76h0M676.31 154.04h0M679.29 166.67h0M677.93 159.6h0M675.89 159.16h0M676.52 151.89h0M677.39 167.36h0M677.2 159.22h0M678.45 166.09h0M672.74 152.09h0M672.99 162.07h0M671.74 157.61h0M678.96 159.8h0M678.77 160.69h0M673.83 165.97h0M673.39 167.37h0M670.52 153.73h0M679.54 166.42h0M676.29 152.16h0M679.41 149.32h0M675.86 157.19h0M674.6 155.87h0M677.11 164.11h0M678.59 159.83h0M678.14 158.15h0M672.8 164.46h0M674.52 169.31h0M679.21 162.33h0M674.52 162.08h0M677.68 166.87h0M674.72 156.75h0M678.01 175.63h0M669.83 154.4h0M669.11 150.86h0M670.07 164.44h0M673.76 154.89h0M673.03 157.14h0M679.36 159.88h0M679.77 152.26h0M670.54 158.45h0M678.03 157.54h0M674.55 151.82h0M678.1 161.08h0M673.05 157.74h0M677.37 154.58h0M669.15 163.81h0M674.11 157.12h0M672.66 149.31h0M671.8 166.34h0M672.32 158.47h0M673.58 151.71h0M674.41 156.51h0M674.72 155.31h0M676.96 151.66h0M677.95 157.31h0M679.39 155.08h0M676.26 154.52h0M671.85 162.53h0M675.29 153.39h0M673.79 149.87h0M671.62 154.65h0M672.66 155.68h0M671.55 153.45h0M674.87 160.37h0M669.81 166.01h0M674.91 164.98h0M673.51 158.6h0M669.17 163.59h0M672.05 164.46h0M679.49 161.81h0M675.3 164.03h0M669.79 157.47h0M675.28 163.55h0M676.63 159.71h0M670.54 163.01h0M673.41 163.78h0M671.39 151.78h0M674.91 165.77h0M677.9 150.14h0M671.66 159.45h0M670.59 161.72h0M670.59 164.97h0M675.67 151h0M669.84 162.75h0M674.73 156.85h0M677.77 150.64h0M677.3 157.08h0M676.27 161.28h0M669.22 151.78h0M673.72 165.03h0M671.7 150.25h0M674.61 154.5h0M670.72 158.15h0M670.55 152.05h0M679.28 169.26h0M678.52 171.49h0M670.15 168.2h0M677.96 155.37h0M669.81 165.92h0M672.73 157.59h0M679.74 155.9h0M679.16 162.68h0M674.1 151.7h0M676.61 148.1h0M673.19 168.35h0M678.18 157.59h0M672.48 165.03h0M671.31 157.75h0M670.65 153.05h0M675.85 159.87h0M675.07 153.95h0M678.76 151.59h0M670.67 149.41h0" stroke="#787878" stroke-opacity="0.95" stroke-width="0.84" stroke-linecap="round" fill="none"/><path d="M571.05 224.2L666.3 159.8" stroke="#000" stroke-width="1.15" fill="none"/><path d="M571.05 212.1V230.1" stroke="#000" stroke-width="1"/><path d="M571.05 220.4V226.7" stroke="#000" stroke-width="3"/><circle cx="571.05" cy="224.2" r="1.15" fill="#fff"/><path d="M573.2 216.2H583.9" stroke="#000" stroke-width="0.75" stroke-dasharray="2.3 1" fill="none"/><path d="M573.2 230.1H583.9" stroke="#000" stroke-width="0.75" stroke-dasharray="2.3 1" fill="none"/><path d="M666.3 148.4V176" stroke="#000" stroke-width="1"/><path d="M666.3 156.4V164" stroke="#000" stroke-width="3"/><circle cx="666.3" cy="159.8" r="1.15" fill="#fff"/><path d="M668.9 148.4H680" stroke="#000" stroke-width="0.75" stroke-dasharray="2.3 1" fill="none"/><path d="M668.9 168.4H680" stroke="#000" stroke-width="0.75" stroke-dasharray="2.3 1" fill="none"/><rect x="552.5" y="144.5" width="133.1" height="89.8" fill="none" stroke="#000" stroke-width="0.8"/><path d="M552.5 151.35h-2.5M552.5 164.57h-2.5M552.5 177.8h-2.5M552.5 191.02h-2.5M552.5 204.25h-2.5M552.5 217.47h-2.5M552.5 230.7h-2.5M571.8 234.3v2.5M595.7 234.3v2.5M619.6 234.3v2.5M643.5 234.3v2.5M667.4 234.3v2.5" stroke="#000" stroke-width="0.7" fill="none"/><g font-size="6.85"><text x="548.4" y="153.85" text-anchor="end" textLength="13.8" lengthAdjust="spacingAndGlyphs">1.50</text><text x="548.4" y="167.07" text-anchor="end" textLength="13.8" lengthAdjust="spacingAndGlyphs">1.25</text><text x="548.4" y="180.3" text-anchor="end" textLength="13.8" lengthAdjust="spacingAndGlyphs">1.00</text><text x="548.4" y="193.52" text-anchor="end" textLength="13.8" lengthAdjust="spacingAndGlyphs">0.75</text><text x="548.4" y="206.75" text-anchor="end" textLength="13.8" lengthAdjust="spacingAndGlyphs">0.50</text><text x="548.4" y="219.97" text-anchor="end" textLength="13.8" lengthAdjust="spacingAndGlyphs">0.25</text><text x="548.4" y="233.2" text-anchor="end" textLength="13.8" lengthAdjust="spacingAndGlyphs">0.00</text><text x="571.8" y="243.75" text-anchor="middle">0</text><text x="595.7" y="243.75" text-anchor="middle">1</text><text x="619.6" y="243.75" text-anchor="middle">2</text><text x="643.5" y="243.75" text-anchor="middle">3</text><text x="667.4" y="243.75" text-anchor="middle">4</text></g><text x="619" y="252.3" font-size="6.6" text-anchor="middle" textLength="36.5" lengthAdjust="spacingAndGlyphs">Time [days]</text><text transform="translate(530 189.7) rotate(-90)" font-size="6.6" text-anchor="middle" textLength="108.5" lengthAdjust="spacingAndGlyphs">Growth rate [divisions day<tspan font-size="4.8" dy="-2.4">−1</tspan><tspan dy="2.4"> cell</tspan><tspan font-size="4.8" dy="-2.4">−1</tspan><tspan dy="2.4">]</tspan></text><text x="603.9" y="137.8" font-size="10.4" text-anchor="middle" textLength="48.6" lengthAdjust="spacingAndGlyphs">Day 8 sc.</text></g></g></svg></body></html>
